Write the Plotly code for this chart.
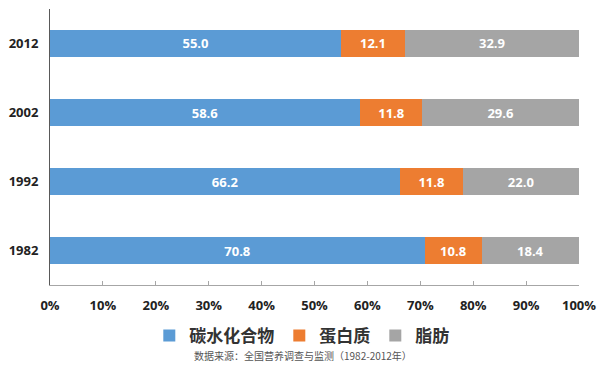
import plotly.graph_objects as go

years = ["1982", "1992", "2002", "2012"]
carbs = [70.8, 66.2, 58.6, 55.0]
protein = [10.8, 11.8, 11.8, 12.1]
fat = [18.4, 22.0, 29.6, 32.9]
series_names = ["碳水化合物", "蛋白质", "脂肪"]
x_ticks = [0, 10, 20, 30, 40, 50, 60, 70, 80, 90, 100]
x_tick_labels = [f"{v}%" for v in x_ticks]
source_note = "数据来源：全国营养调查与监测（1982-2012年）"

colors = ["#5B9BD5", "#ED7D31", "#A5A5A5"]

fig = go.Figure()
for name, vals, col in zip(series_names, [carbs, protein, fat], colors):
    fig.add_trace(go.Bar(
        y=years, x=vals, name=name, orientation="h",
        marker=dict(color=col, line=dict(width=0)),
        width=0.39,
        text=[f"{v:.1f}" for v in vals],
        textposition="inside", insidetextanchor="middle",
        textfont=dict(color="white", size=13, family="Open Sans", weight="bold"),
        hoverinfo="skip",
    ))

fig.update_layout(
    barmode="stack",
    width=600, height=369,
    margin=dict(l=50, r=21, t=9, b=84, autoexpand=False),
    paper_bgcolor="white", plot_bgcolor="white",
    font=dict(family="Open Sans", color="#222"),
    uniformtext=dict(mode="show", minsize=8),
    legend=dict(orientation="h", x=0.476, xanchor="center", y=-0.185, yanchor="middle",
                font=dict(size=17, family="Noto Sans CJK SC", color="#333", weight="bold"),
                itemsizing="constant", traceorder="normal", itemwidth=30),
    xaxis=dict(range=[0, 100], tickvals=x_ticks, ticktext=x_tick_labels,
               showgrid=False, zeroline=False, showline=True, linecolor="#a6a6a6",
               linewidth=1, ticks="inside", ticklen=4, tickcolor="#a6a6a6",
               tickfont=dict(size=13, family="Open Sans", color="#222", weight="bold"),
               ticklabelstandoff=8, automargin=False),
    yaxis=dict(categoryorder="array", categoryarray=years, range=[-0.5, 3.5],
               showgrid=False, zeroline=False, showline=True, linecolor="#595959",
               linewidth=1, ticks="",
               tickfont=dict(size=13, family="Open Sans", color="#222", weight="bold"),
               ticklabelstandoff=8, automargin=False),
    annotations=[dict(text=source_note, x=0.478, xref="paper", y=-0.254, yref="paper",
                      xanchor="center", yanchor="middle", showarrow=False,
                      font=dict(size=10, family="Noto Sans CJK SC", color="#555"))],
)

fig.write_html("out.html", config={"displayModeBar": False},
               post_script="document.body.style.margin='0';")
